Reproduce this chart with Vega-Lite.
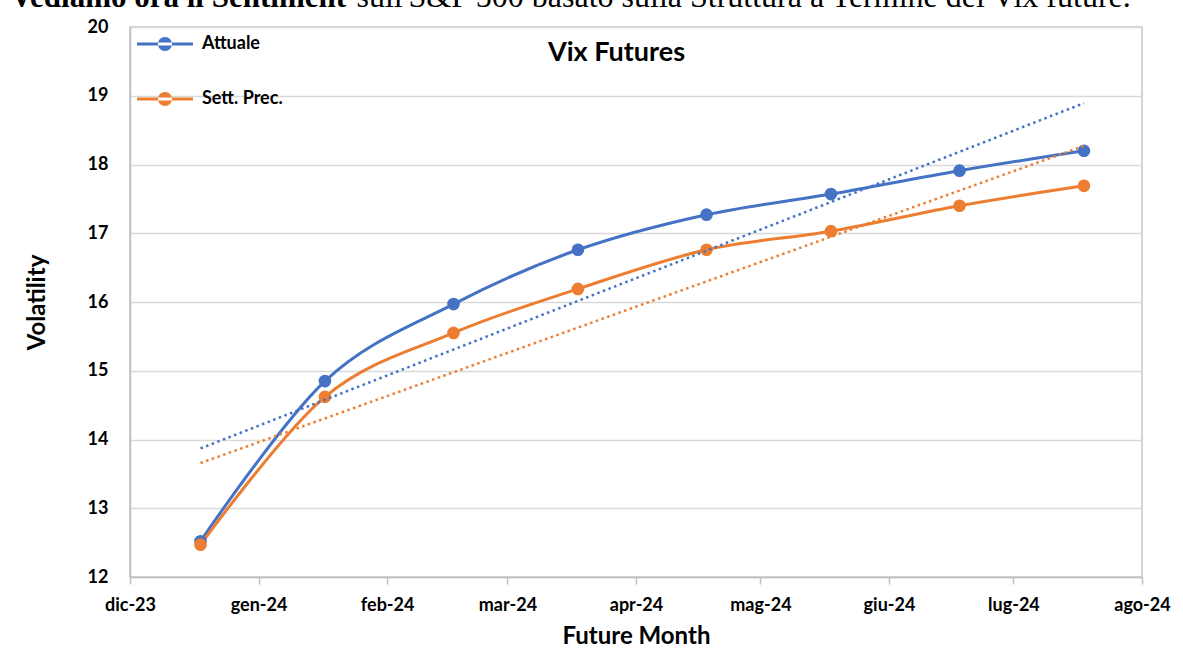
{
  "$schema": "https://vega.github.io/schema/vega-lite/v6.json",
  "autosize": "none",
  "width": 1012,
  "height": 550,
  "padding": {"left": 130, "top": 27, "right": 41, "bottom": 78},
  "background": "white",
  "config": {
    "view": {"stroke": "#BCC6D8", "strokeWidth": 1.5},
    "font": "Lato"
  },
  "data": {
    "values": [
      {"date": "2023-12-18", "series": "Attuale", "value": 12.52},
      {"date": "2024-01-17", "series": "Attuale", "value": 14.85},
      {"date": "2024-02-17", "series": "Attuale", "value": 15.97},
      {"date": "2024-03-18", "series": "Attuale", "value": 16.76},
      {"date": "2024-04-18", "series": "Attuale", "value": 17.27},
      {"date": "2024-05-18", "series": "Attuale", "value": 17.57},
      {"date": "2024-06-18", "series": "Attuale", "value": 17.91},
      {"date": "2024-07-18", "series": "Attuale", "value": 18.2},
      {"date": "2023-12-18", "series": "Sett. Prec.", "value": 12.47},
      {"date": "2024-01-17", "series": "Sett. Prec.", "value": 14.62},
      {"date": "2024-02-17", "series": "Sett. Prec.", "value": 15.55},
      {"date": "2024-03-18", "series": "Sett. Prec.", "value": 16.19},
      {"date": "2024-04-18", "series": "Sett. Prec.", "value": 16.76},
      {"date": "2024-05-18", "series": "Sett. Prec.", "value": 17.03},
      {"date": "2024-06-18", "series": "Sett. Prec.", "value": 17.4},
      {"date": "2024-07-18", "series": "Sett. Prec.", "value": 17.69}
    ]
  },
  "resolve": {"axis": {"x": "independent", "y": "independent"}},
  "layer": [
    {
      "mark": {"type": "line", "interpolate": "cardinal", "strokeWidth": 3},
      "encoding": {
        "x": {
          "field": "date",
          "type": "temporal",
          "scale": {"domain": [{"year": 2023, "month": 12, "date": 1}, {"year": 2024, "month": 8, "date": 1}]},
          "axis": {
            "title": "Future Month",
            "titleFont": "Lato",
            "titleFontSize": 24,
            "titleFontWeight": "bold",
            "titleColor": "#000000",
            "titlePadding": 10,
            "values": [
              {"year": 2023, "month": 12, "date": 1},
              {"year": 2024, "month": 1, "date": 1},
              {"year": 2024, "month": 2, "date": 1},
              {"year": 2024, "month": 3, "date": 1},
              {"year": 2024, "month": 4, "date": 1},
              {"year": 2024, "month": 5, "date": 1},
              {"year": 2024, "month": 6, "date": 1},
              {"year": 2024, "month": 7, "date": 1},
              {"year": 2024, "month": 8, "date": 1}
            ],
            "labelExpr": "['gen','feb','mar','apr','mag','giu','lug','ago','set','ott','nov','dic'][month(datum.value)] + '-' + timeFormat(datum.value, '%y')",
            "labelFont": "Lato",
            "labelFontSize": 18,
            "labelFontWeight": "bold",
            "labelColor": "#000000",
            "labelPadding": 12,
            "labelFlush": false,
            "labelOverlap": false,
            "tickColor": "#BFBFBF",
            "tickSize": 7,
            "tickWidth": 1.5,
            "domainColor": "#BFBFBF",
            "domainWidth": 1.5,
            "grid": false
          }
        },
        "y": {
          "field": "value",
          "type": "quantitative",
          "scale": {"domain": [12, 20], "nice": false, "zero": false},
          "axis": {
            "title": "Volatility",
            "titleFont": "Lato",
            "titleFontSize": 24,
            "titleFontWeight": "bold",
            "titleColor": "#000000",
            "titlePadding": 38,
            "values": [12, 13, 14, 15, 16, 17, 18, 19, 20],
            "format": "d",
            "labelFont": "Lato",
            "labelFontSize": 18,
            "labelFontWeight": "bold",
            "labelColor": "#000000",
            "labelPadding": 22,
            "ticks": false,
            "domainColor": "#BFBFBF",
            "domainWidth": 1.5,
            "gridColor": "#D9D9D9",
            "gridWidth": 1.5
          }
        },
        "color": {
          "field": "series",
          "type": "nominal",
          "scale": {"domain": ["Attuale", "Sett. Prec."], "range": ["#4472C4", "#ED7D31"]},
          "legend": {
            "title": null,
            "orient": "none",
            "legendX": 7,
            "legendY": -11,
            "padding": 0,
            "symbolType": "M-1,-0.055H1V0.055H-1Z M-0.25,0A0.25,0.25 0 1,0 0.25,0A0.25,0.25 0 1,0 -0.25,0Z",
            "symbolSize": 3136,
            "symbolStrokeWidth": 0,
            "rowPadding": 18,
            "labelOffset": 9,
            "labelFont": "Lato",
            "labelFontSize": 18,
            "labelFontWeight": "bold",
            "labelColor": "#000000",
            "encode": {"symbols": {"update": {"fill": {"scale": "color", "field": "value"}, "opacity": {"value": 1}}}}
          }
        }
      }
    },
    {
      "mark": {"type": "point", "filled": true, "size": 160, "opacity": 1},
      "encoding": {
        "x": {
          "field": "date",
          "type": "temporal",
          "axis": {
            "orient": "top",
            "title": "Vix Futures",
            "titleFont": "Lato",
            "titleFontSize": 27,
            "titleFontWeight": "bold",
            "titleColor": "#000000",
            "titleX": 486,
            "titleY": 33,
            "titleAlign": "center",
            "titleAngle": 0,
            "titleBaseline": "alphabetic",
            "labels": false,
            "ticks": false,
            "domain": false,
            "grid": false
          }
        },
        "y": {
          "field": "value",
          "type": "quantitative",
          "axis": {
            "orient": "right",
            "title": "Vediamo ora il Sentiment",
            "titleFont": "Liberation Serif",
            "titleFontSize": 31,
            "titleFontWeight": "bold",
            "titleColor": "#000000",
            "titleX": -1132,
            "titleY": -21,
            "titleAlign": "left",
            "titleAngle": 0,
            "titleBaseline": "alphabetic",
            "labels": false,
            "ticks": false,
            "domain": false,
            "grid": false
          }
        },
        "color": {"field": "series", "type": "nominal", "legend": null}
      }
    },
    {
      "transform": [{"regression": "value", "on": "date", "groupby": ["series"]}],
      "mark": {"type": "line", "strokeWidth": 2.5, "strokeDash": [2.5, 3.5], "strokeCap": "butt"},
      "encoding": {
        "x": {
          "field": "date",
          "type": "temporal",
          "axis": {
            "orient": "top",
            "title": "sull'S&P 500 basato sulla Struttura a Termine del Vix future.",
            "titleFont": "Liberation Serif",
            "titleFontSize": 32,
            "titleFontWeight": "normal",
            "titleColor": "#000000",
            "titleX": 226,
            "titleY": -21,
            "titleAlign": "left",
            "titleAngle": 0,
            "titleBaseline": "alphabetic",
            "labels": false,
            "ticks": false,
            "domain": false,
            "grid": false
          }
        },
        "y": {"field": "value", "type": "quantitative", "axis": null},
        "color": {"field": "series", "type": "nominal", "legend": null}
      }
    }
  ]
}
